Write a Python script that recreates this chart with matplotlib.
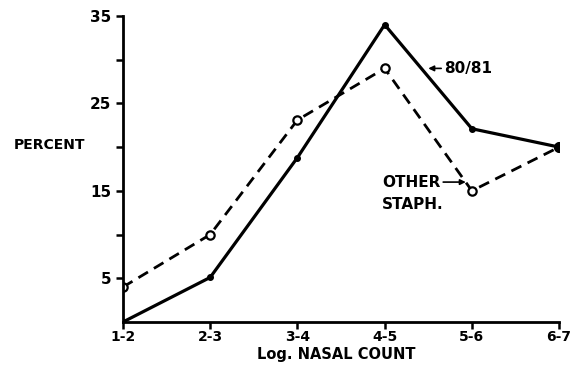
import numpy as np
import matplotlib.pyplot as plt

categories = ['1-2', '2-3', '3-4', '4-5', '5-6', '6-7']
strain_80_81 = [0, 5.1, 18.8, 34, 22.1, 20]
other_staph = [4, 10, 23.1, 29, 15, 20]

x = np.arange(len(categories))

fig = plt.figure(figsize=(5.8, 3.67), dpi=100)
ax = fig.add_axes([0.212, 0.1226, 0.752, 0.834])

ax.plot(x, other_staph, 'k--', linewidth=2, dashes=(4, 2.5),
        marker='o', markersize=6, markerfacecolor='white', markeredgewidth=1.6)
ax.plot(x, strain_80_81, 'k-', linewidth=2.3, marker='o', markersize=4)
ax.plot(x[-1], strain_80_81[-1], 'ko', markersize=7)

ax.set_xlim(0, len(categories) - 1)
ax.set_ylim(0, 35)
ax.set_xticks(x)
ax.set_xticklabels(categories, fontweight='bold', fontsize=10)
ax.set_yticks([5, 15, 25, 35])
ax.set_yticks([10, 20, 30], minor=True)
ax.set_yticklabels(['5', '15', '25', '35'], fontweight='bold', fontsize=11)
ax.tick_params(which='both', direction='out', length=5, width=1.8)
ax.tick_params(axis='x', pad=1)
ax.spines['top'].set_visible(False)
ax.spines['right'].set_visible(False)
ax.spines['left'].set_linewidth(2)
ax.spines['bottom'].set_linewidth(2)

fig.text(0.024, 0.605, 'PERCENT', fontweight='bold', fontsize=10, va='center')
fig.text(0.58, 0.035, 'Log. NASAL COUNT', fontweight='bold', fontsize=10.5,
         ha='center', va='center')

ax.annotate('80/81', xy=(3.5, 29), xytext=(3.68, 29),
            fontsize=11, fontweight='bold', va='center', ha='left',
            arrowprops=dict(arrowstyle='-|>', color='k', lw=1.2,
                            shrinkA=0, shrinkB=0, mutation_scale=8))
ax.annotate('OTHER', xy=(3.93, 16), xytext=(2.97, 16),
            fontsize=11, fontweight='bold', va='center', ha='left',
            arrowprops=dict(arrowstyle='-|>', color='k', lw=1.2,
                            shrinkA=0, shrinkB=0, mutation_scale=8))
ax.text(2.97, 13.4, 'STAPH.', fontsize=11, fontweight='bold', va='center', ha='left')

fig.savefig('out.png', dpi=100)
